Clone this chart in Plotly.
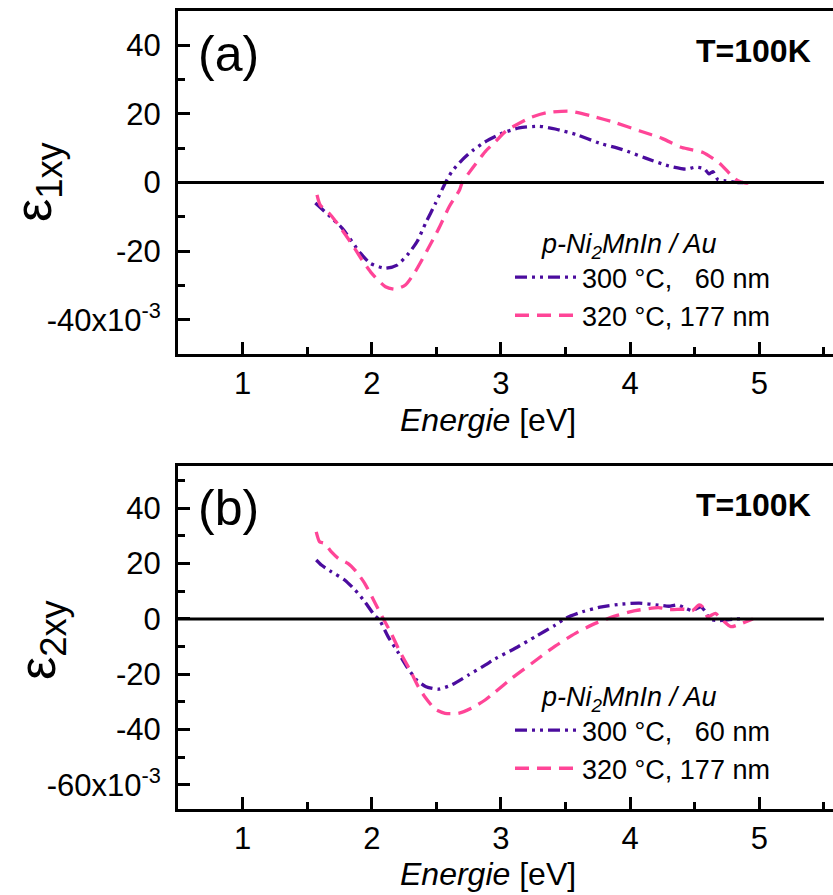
import plotly.graph_objects as go

# ---- data (values in units of 1e-3) ----
e1_300_E = [1.563, 1.77, 1.912, 1.99, 2.106, 2.196, 2.287, 2.351, 2.416, 2.494, 2.571, 2.62, 2.70, 2.78,
            2.87, 2.96, 3.01, 3.14, 3.295, 3.42, 3.58, 3.76, 3.94, 4.12, 4.30, 4.43, 4.51, 4.574, 4.61,
            4.64, 4.68, 4.74, 4.845, 4.88]
e1_300_V = [-6.0, -13.3, -20.6, -23.6, -25.0, -24.1, -20.6, -17.2, -11.9, -6.0, 0.0, 3.2, 6.6, 9.3,
            11.7, 13.5, 14.4, 15.9, 16.4, 15.6, 14.0, 11.5, 9.6, 7.1, 4.8, 3.9, 4.5, 4.0, 2.5,
            3.2, 0.8, 0.5, 0.0, 0.0]

e1_320_E = [1.576, 1.60, 1.68, 1.77, 1.85, 1.925, 2.00, 2.106, 2.18, 2.26, 2.336, 2.43, 2.52, 2.60, 2.68,
            2.70, 2.78, 2.88, 2.96, 3.035, 3.22, 3.35, 3.53, 3.71, 3.89, 4.07, 4.25, 4.40, 4.56, 4.69,
            4.78, 4.83, 4.90, 4.95]
e1_320_V = [-3.6, -6.5, -9.4, -13.8, -18.2, -22.6, -26.5, -30.4, -31.1, -29.9, -26.0, -19.7, -13.3, -7.0, -2.1,
            0.0, 4.2, 9.1, 12.0, 14.9, 18.8, 20.3, 20.8, 19.3, 17.4, 15.1, 12.8, 10.2, 8.8, 5.7,
            2.2, 0.6, -0.2, 0.8]

e2_300_E = [1.57, 1.61, 1.686, 1.79, 1.87, 1.945, 2.02, 2.06, 2.126, 2.20, 2.27, 2.346, 2.42, 2.515, 2.62,
            2.75, 2.88, 2.955, 3.11, 3.266, 3.42, 3.50, 3.63, 3.78, 3.94, 4.07, 4.22, 4.30, 4.365, 4.43,
            4.48, 4.547, 4.59, 4.61, 4.68, 4.74, 4.82, 4.88]
e2_300_V = [21.3, 19.5, 17.1, 14.1, 10.5, 6.3, 1.4, -0.4, -6.4, -11.8, -17.2, -22.0, -24.5, -25.4, -23.8,
            -20.2, -16.6, -14.4, -10.6, -6.4, -2.2, 0.25, 2.6, 4.4, 5.4, 5.7, 5.0, 4.6, 5.1, 3.9,
            3.0, 4.4, 2.1, 0.0, -0.6, -0.4, 0.0, 0.0]

e2_320_E = [1.57, 1.596, 1.635, 1.686, 1.74, 1.815, 1.88, 1.945, 2.00, 2.06, 2.087, 2.15, 2.217, 2.295,
            2.36, 2.41, 2.49, 2.567, 2.67, 2.77, 2.877, 2.95, 3.084, 3.24, 3.395, 3.576, 3.73, 3.887,
            4.04, 4.22, 4.30, 4.42, 4.48, 4.534, 4.56, 4.60, 4.66, 4.70, 4.78, 4.83, 4.897, 4.95]
e2_320_V = [31.5, 27.9, 27.3, 24.3, 21.9, 20.1, 17.1, 12.9, 8.1, 2.6, 0.25, -5.2, -11.8, -18.4,
            -24.5, -28.1, -32.6, -34.1, -34.1, -32.3, -29.3, -26.6, -21.4, -16.0, -10.6, -5.2, -1.6, 1.1,
            3.0, 4.1, 3.4, 3.5, 3.0, 5.1, 4.4, 0.8, 2.0, 0.25, -2.8, -2.2, -1.0, 0.0]

series_names = ["300 °C,   60 nm", "320 °C, 177 nm"]
legend_title = "<i>    p-Ni<sub>2</sub>MnIn / Au</i>"

x_tickvals = [1, 2, 3, 4, 5]
y1_tickvals = [40, 20, 0, -20, -40]
y1_ticktext = ["40", "20", "0", "-20", "-40x10<sup>-3</sup>"]
y2_tickvals = [40, 20, 0, -20, -40, -60]
y2_ticktext = ["40", "20", "0", "-20", "-40", "-60x10<sup>-3</sup>"]

PURPLE = "#4B0C9E"
PINK = "#FF4597"
FONT = "Arial, Liberation Sans, sans-serif"
DASH_DD = "12px,5px,3px,5px,3px,5px"
DASH_D = "14px,8px"
TICK_SIZE = 31

W, H = 833, 895
fig = go.Figure()

def add(x, y, color, dash, name, xa, ya, leg):
    fig.add_trace(go.Scatter(x=x, y=y, mode="lines", name=name, xaxis=xa, yaxis=ya, legend=leg,
                             line=dict(color=color, width=3.3, dash=dash, shape="spline", smoothing=0.6)))

add(e1_300_E, e1_300_V, PURPLE, DASH_DD, series_names[0], "x", "y", "legend")
add(e1_320_E, e1_320_V, PINK, DASH_D, series_names[1], "x", "y", "legend")
add(e2_300_E, e2_300_V, PURPLE, DASH_DD, series_names[0], "x2", "y2", "legend2")
add(e2_320_E, e2_320_V, PINK, DASH_D, series_names[1], "x2", "y2", "legend2")

xdom = [178 / W, 1.0]
top_dom = [1 - 354 / H, 1 - 11 / H]
bot_dom = [1 - 809 / H, 1 - 465.7 / H]

def xaxis(anchor):
    return dict(domain=xdom, anchor=anchor, range=[0.5, 5.57], tickvals=x_tickvals,
                ticks="inside", ticklen=12, tickwidth=2.5, tickcolor="black",
                minor=dict(ticks="inside", dtick=0.5, ticklen=7, tickwidth=2.5, tickcolor="black"),
                showline=True, linewidth=3, linecolor="black", mirror=True,
                showgrid=False, zeroline=False, ticklabelstandoff=0,
                tickfont=dict(family=FONT, size=TICK_SIZE, color="black"))

def yaxis(anchor, dom, rng, tv, tt):
    return dict(domain=dom, anchor=anchor, range=rng, tickvals=tv, ticktext=tt,
                ticks="inside", ticklen=12, tickwidth=2.5, tickcolor="black",
                minor=dict(ticks="inside", dtick=10, ticklen=7, tickwidth=2.5, tickcolor="black"),
                showline=True, linewidth=3, linecolor="black", mirror=False,
                showgrid=False, zeroline=False, ticklabelstandoff=8,
                tickfont=dict(family=FONT, size=TICK_SIZE, color="black"))

def legend(y):
    return dict(x=510 / W, y=1 - y / H, xanchor="left", yanchor="top", bgcolor="rgba(0,0,0,0)",
                title=dict(text=legend_title, side="top", font=dict(family=FONT, size=27)),
                font=dict(family=FONT, size=27), tracegroupgap=0, itemwidth=62)

fig.update_layout(
    width=W, height=H, margin=dict(l=0, r=0, t=0, b=0),
    paper_bgcolor="white", plot_bgcolor="white",
    font=dict(family=FONT, color="black"),
    xaxis=xaxis("y"), yaxis=yaxis("x", top_dom, [-50, 50], y1_tickvals, y1_ticktext),
    xaxis2=xaxis("y2"), yaxis2=yaxis("x2", bot_dom, [-68.7, 55.4], y2_tickvals, y2_ticktext),
    legend=legend(218), legend2=legend(671),
    showlegend=True,
)

for ya, xa in (("y", "x"), ("y2", "x2")):
    fig.add_shape(type="line", xref=xa, yref=ya, x0=0.5, x1=5.5, y0=0, y1=0,
                  line=dict(color="black", width=3))

ann = []
def text(s, x, y, size, xanchor="center", textangle=0):
    ann.append(dict(text=s, x=x / W, y=1 - y / H, xref="paper", yref="paper", showarrow=False,
                    xanchor=xanchor, yanchor="middle", textangle=textangle,
                    font=dict(family=FONT, size=size, color="black")))

text("(a)", 228, 54, 50)
text("(b)", 228, 508, 50)
text("<b>T=100K</b>", 813, 51, 32, xanchor="right")
text("<b>T=100K</b>", 813, 505, 32, xanchor="right")
text("<i>Energie</i> [eV]", 488, 420, 32)
text("<i>Energie</i> [eV]", 488, 874, 32)
text("ε<sub>1xy</sub>", 37, 182, 52, textangle=-90)
text("ε<sub>2xy</sub>", 41, 640, 52, textangle=-90)
fig.update_layout(annotations=ann)

fig.write_html("out.html")
